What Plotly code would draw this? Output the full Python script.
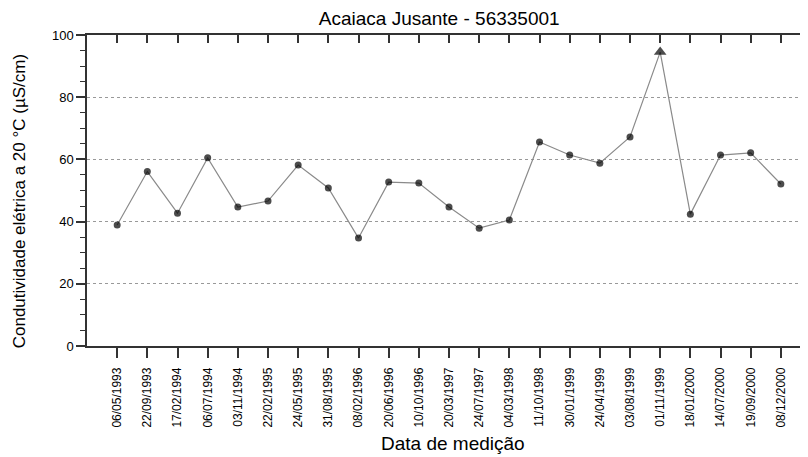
import plotly.graph_objects as go

dates = ["06/05/1993", "22/09/1993", "17/02/1994", "06/07/1994", "03/11/1994",
         "22/02/1995", "24/05/1995", "31/08/1995", "08/02/1996", "20/06/1996",
         "10/10/1996", "20/03/1997", "24/07/1997", "04/03/1998", "11/10/1998",
         "30/01/1999", "24/04/1999", "03/08/1999", "01/11/1999", "18/01/2000",
         "14/07/2000", "19/09/2000", "08/12/2000"]
conductivity = [38.9, 56.1, 42.7, 60.5, 44.7, 46.6, 58.2, 50.8, 34.7, 52.7,
                52.4, 44.7, 37.9, 40.5, 65.6, 61.4, 58.8, 67.2, 94.5, 42.4,
                61.4, 62.1, 52.1]
y_ticks = [0, 20, 40, 60, 80, 100]

maxv = max(conductivity)
symbols = ["triangle-up" if v == maxv else "circle" for v in conductivity]
sizes = [11 if v == maxv else 7 for v in conductivity]

font = "Liberation Sans, Arial, sans-serif"
axc = "#333"

fig = go.Figure()
fig.add_trace(go.Scatter(
    x=dates, y=conductivity, mode="lines+markers",
    line=dict(color="#8a8a8a", width=1.2),
    marker=dict(color="black", symbol=symbols, size=sizes, line=dict(width=0)),
    showlegend=False, cliponaxis=False,
))
# helper trace for the mirrored top / right axes
fig.add_trace(go.Scatter(
    x=dates, y=conductivity, xaxis="x2", yaxis="y2", mode="markers",
    marker=dict(color="rgba(0,0,0,0)"), showlegend=False, hoverinfo="skip",
))

# page body has an 8px margin, so the figure is 8px smaller than the window
fig.update_layout(
    width=800, height=449,
    margin=dict(l=79, r=0, t=27, b=111),
    paper_bgcolor="white", plot_bgcolor="white",
    font=dict(family=font, color="black"),
    title=dict(text="Acaiaca Jusante - 56335001", x=0.539, xanchor="center",
               y=0.992, yanchor="top", pad=dict(t=0, b=0),
               font=dict(size=19, color="black")),
    xaxis=dict(
        type="category", range=[-1, 22.9], automargin=False,
        showline=True, linecolor=axc, linewidth=1.5,
        ticks="outside", ticklen=10, tickcolor=axc, tickwidth=1.5,
        ticklabelstandoff=5,
        tickangle=-90, tickfont=dict(size=12),
        showgrid=False, zeroline=False,
    ),
    xaxis2=dict(
        type="category", range=[-1, 22.9], overlaying="x", side="top",
        anchor="y2", automargin=False, showline=True, linecolor=axc, linewidth=1.5,
        ticks="inside", ticklen=8, tickcolor=axc, tickwidth=1.5,
        showticklabels=False, showgrid=False, zeroline=False,
    ),
    yaxis=dict(
        range=[0, 100], tickvals=y_ticks, automargin=False,
        showline=True, linecolor=axc, linewidth=1.5,
        ticks="outside", ticklen=9, tickcolor=axc, tickwidth=1.5,
        tickfont=dict(size=13),
        minor=dict(dtick=5, ticks="outside", ticklen=5, tickcolor=axc,
                   tickwidth=1, showgrid=False),
        showgrid=True, gridcolor="#999", griddash="dot", gridwidth=1,
        zeroline=False,
    ),
    yaxis2=dict(
        range=[0, 100], tickvals=y_ticks, overlaying="y", side="right",
        anchor="x2", automargin=False, showline=False,
        ticks="inside", ticklen=6, tickcolor=axc, tickwidth=1.5,
        minor=dict(dtick=5, ticks="inside", ticklen=3, tickcolor=axc, tickwidth=1),
        showticklabels=False, showgrid=False, zeroline=False,
    ),
    annotations=[
        dict(text="Data de medição", xref="paper", yref="paper",
             x=0.508, y=-0.312, xanchor="center", yanchor="middle",
             showarrow=False, font=dict(size=19, color="black")),
        dict(text="Condutividade elétrica a 20 °C (µS/cm)", xref="paper",
             yref="paper", x=-0.094, y=0.466, xanchor="center",
             yanchor="middle", textangle=-90, showarrow=False,
             font=dict(size=17, color="black")),
    ],
)

fig.write_html("out.html")
